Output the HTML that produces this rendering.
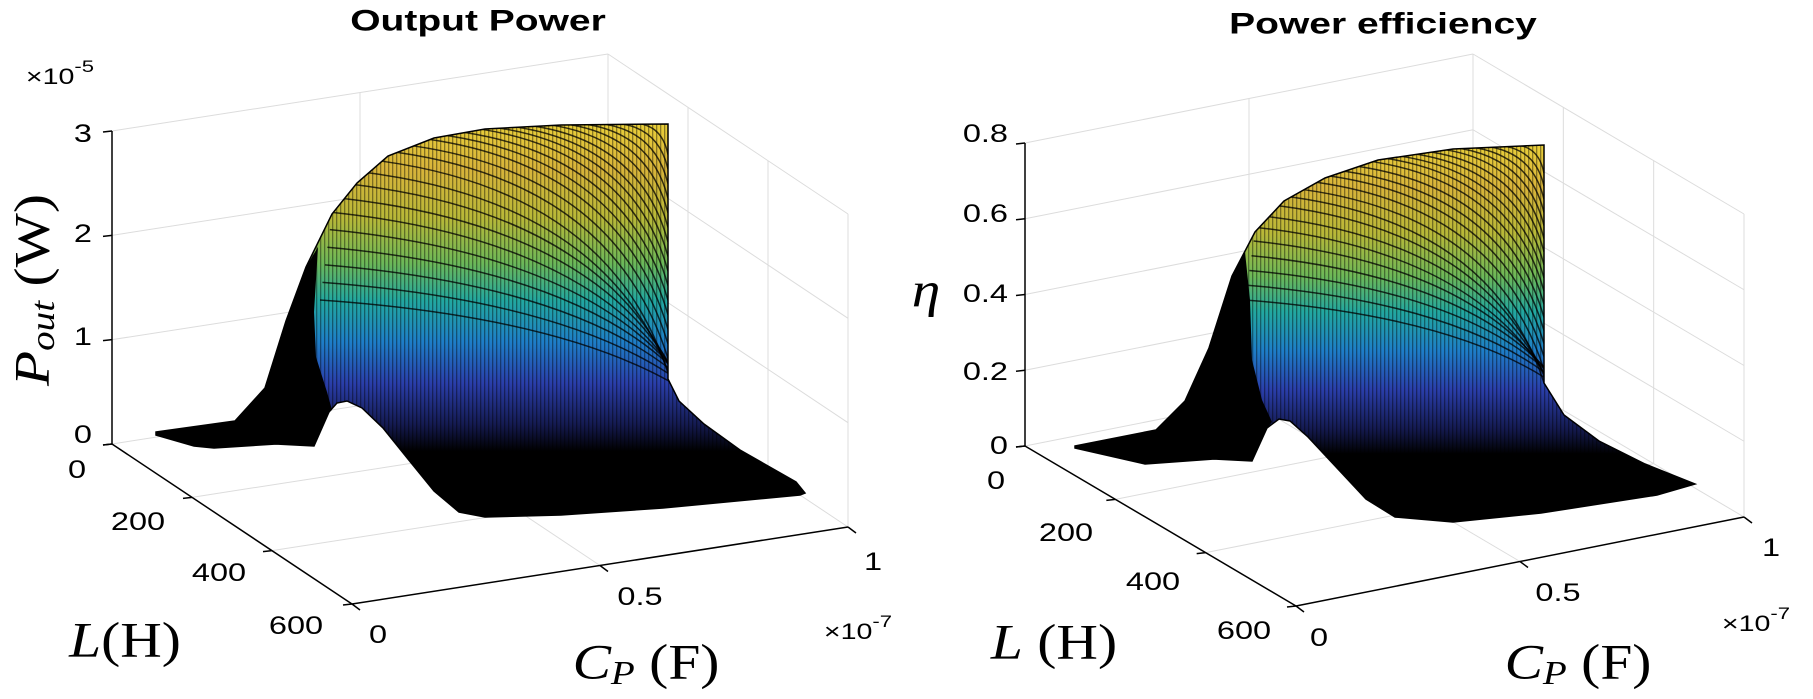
<!DOCTYPE html>
<html><head><meta charset="utf-8"><style>
html,body{margin:0;padding:0;background:#fff;}
svg{display:block;}
text{font-family:"Liberation Sans",sans-serif;fill:#000;}
.s{font-family:"Liberation Serif",serif;}
</style></head><body>
<svg id="g" width="1813" height="699" viewBox="0 0 1813 699" xmlns="http://www.w3.org/2000/svg">
<defs>
<pattern id="vl" width="4" height="10" patternUnits="userSpaceOnUse"><rect x="0" y="0" width="1.3" height="10" fill="#000" fill-opacity="0.4"/></pattern>
<linearGradient id="gL" gradientUnits="userSpaceOnUse" x1="0" y1="124" x2="0" y2="500">
<stop offset="0" stop-color="#e9cf3a"/><stop offset="0.12" stop-color="#d8b43a"/><stop offset="0.25" stop-color="#b8b838"/>
<stop offset="0.37" stop-color="#6cb858"/><stop offset="0.47" stop-color="#22a8a0"/><stop offset="0.58" stop-color="#1e7ec8"/>
<stop offset="0.69" stop-color="#2a3eaa"/><stop offset="0.8" stop-color="#141a50"/><stop offset="0.87" stop-color="#000"/><stop offset="1" stop-color="#000"/>
</linearGradient>
<linearGradient id="gR" gradientUnits="userSpaceOnUse" x1="0" y1="145" x2="0" y2="500">
<stop offset="0" stop-color="#e9cf3a"/><stop offset="0.12" stop-color="#d8b43a"/><stop offset="0.25" stop-color="#b8b838"/>
<stop offset="0.37" stop-color="#6cb858"/><stop offset="0.47" stop-color="#22a8a0"/><stop offset="0.58" stop-color="#1e7ec8"/>
<stop offset="0.69" stop-color="#2a3eaa"/><stop offset="0.8" stop-color="#141a50"/><stop offset="0.87" stop-color="#000"/><stop offset="1" stop-color="#000"/>
</linearGradient>
</defs>
</svg>
<script>
(function(){
var svg=document.getElementById('g');var out='';
function P(p){return p.map(function(q){return q[0]+','+q[1];}).join(' ');}
function add(a,b){return [a[0]+b[0],a[1]+b[1]];}
function mul(a,k){return [a[0]*k,a[1]*k];}
function line(a,b,c,w){out+='<line x1="'+a[0]+'" y1="'+a[1]+'" x2="'+b[0]+'" y2="'+b[1]+'" stroke="'+c+'" stroke-width="'+(w||1)+'"/>';}
function txt(s,x,y,size,extra,anchor){out+='<text transform="translate('+x+','+y+') scale(1.3,1)" font-size="'+size+'" text-anchor="'+(anchor||'middle')+'" dominant-baseline="central" '+(extra||'')+'>'+s+'</text>';}
function interp(pts,t){var L=[0],tot=0;for(var i=1;i<pts.length;i++){tot+=Math.hypot(pts[i][0]-pts[i-1][0],pts[i][1]-pts[i-1][1]);L.push(tot);}
 var d=t*tot;for(var i=1;i<pts.length;i++){if(d<=L[i]||i==pts.length-1){var f=(d-L[i-1])/((L[i]-L[i-1])||1);f=Math.max(0,Math.min(1,f));return [pts[i-1][0]+(pts[i][0]-pts[i-1][0])*f,pts[i-1][1]+(pts[i][1]-pts[i-1][1])*f];}}}
function plot(o){
 var A=o.A,Lv=o.Lv,Cv=o.Cv,H=o.H;
 var D=add(A,Cv),B=add(A,Lv),E=add(B,Cv);var up=[0,-H];var gc='#dcdcdc';
 for(var i=0;i<o.nz;i++){var z=[0,-H*i/(o.nz-1)];line(add(A,z),add(D,z),gc);line(add(D,z),add(E,z),gc);}
 line(add(A,mul(Cv,0.5)),add(add(A,mul(Cv,0.5)),up),gc);
 line(D,add(D,up),gc);
 [1/3,2/3,1].forEach(function(k){var p=add(D,mul(Lv,k));line(p,add(p,up),gc);});
 [1/3,2/3].forEach(function(k){var p=add(A,mul(Lv,k));line(p,add(p,Cv),gc);});
 var p5=add(A,mul(Cv,0.5));line(p5,add(p5,Lv),gc);
 var id=o.id;
 out+='<clipPath id="c'+id+'"><polygon points="'+P(o.out)+'"/></clipPath>';
 out+='<polygon points="'+P(o.out)+'" fill="url(#g'+id+')"/>';
 out+='<g clip-path="url(#c'+id+')"><rect x="0" y="0" width="1813" height="699" fill="url(#vl)"/>';
 var n=26,st=o.starts,en=o.ends;
 for(var k=1;k<n;k++){var t=k/(n-1);
  var s=interp(st,t),e=interp(en,t);
  out+='<path d="M'+s[0]+','+s[1]+' Q'+(s[0]+(e[0]-s[0])*0.8)+','+(s[1]+(e[1]-s[1])*0.15)+' '+e[0]+','+e[1]+'" fill="none" stroke="#000" stroke-width="1.5" stroke-opacity="0.75"/>';}
 out+='</g>';
 out+='<polygon points="'+P(o.black)+'" fill="#000"/>';
 out+='<polygon points="'+P(o.out)+'" fill="none" stroke="#000" stroke-width="1.5"/>';
 line(A,add(A,up),'#000',1.5);line(A,B,'#000',1.5);line(B,E,'#000',1.5);
 for(var i=0;i<o.nz;i++){var p=add(A,[0,-H*i/(o.nz-1)]);line(p,add(p,[-9,1]),'#000',1.5);}
 [0,1/3,2/3,1].forEach(function(k){var p=add(A,mul(Lv,k));line(p,add(p,[-9,1]),'#000',1.5);});
 [0,0.5,1].forEach(function(k){var p=add(B,mul(Cv,k));line(p,add(p,[8,6]),'#000',1.5);});
}
plot({id:'L',A:[112,444],Lv:[240,160],Cv:[496,-77],H:313,nz:4,
 out:[[156,432],[235,421],[265,388],[286,321],[306,267],[332,214],[357,183],[388,156],[434,138],[485,129],[561,125],[668,124],[668,379],[679,401],[704,424],[740,450],[796,482],[805,493],[800,495],[663,508],[561,515],[485,517],[459,512],[434,491],[408,459],[383,428],[362,408],[347,401],[337,403],[329,412],[314,446],[276,444],[214,448],[194,446],[156,435]],
 black:[[156,432],[235,421],[265,388],[286,321],[306,267],[318,247],[314,312],[316,357],[327,392],[332,410],[329,412],[314,446],[276,444],[214,448],[194,446],[156,435]],
 starts:[[660,124],[561,125],[485,129],[434,138],[388,156],[357,183],[332,214],[320,300]],
 ends:[[668,140],[668,379],[704,424],[760,462]]});
plot({id:'R',A:[1025,446],Lv:[271,160],Cv:[448,-89],H:303,nz:5,
 out:[[1075,446],[1156,430],[1185,401],[1209,348],[1232,276],[1255,232],[1284,201],[1325,178],[1378,160],[1453,149],[1544,145],[1544,383],[1564,415],[1599,441],[1645,464],[1695,484],[1657,495],[1541,513],[1453,522],[1395,517],[1366,499],[1337,468],[1308,437],[1290,421],[1279,419],[1267,428],[1252,461],[1214,459],[1145,464],[1075,448]],
 black:[[1075,446],[1156,430],[1185,401],[1209,348],[1232,276],[1245,252],[1250,300],[1252,360],[1262,400],[1272,422],[1267,428],[1252,461],[1214,459],[1145,464],[1075,448]],
 starts:[[1536,145],[1453,149],[1378,160],[1325,178],[1284,201],[1255,232],[1245,300]],
 ends:[[1544,160],[1544,383],[1564,415],[1620,452]]});
txt('Output Power',478,21,30,'font-weight="bold"');
txt('×10<tspan dy="-10" font-size="17">-5</tspan>',60,77,22);
[['3',134],['2',234],['1',337],['0',435]].forEach(function(a){txt(a[0],92,a[1],25,'','end');});
[['0',77,470],['200',138,522],['400',219,573],['600',296,626]].forEach(function(a){txt(a[0],a[1],a[2],25);});
[['0',378,635],['0.5',640,597],['1',873,562]].forEach(function(a){txt(a[0],a[1],a[2],25);});
txt('×10<tspan dy="-10" font-size="17">-7</tspan>',858,632,22);
out+='<text class="s" transform="translate(125,640) scale(1.15,1)" font-size="50" text-anchor="middle" dominant-baseline="central"><tspan font-style="italic">L</tspan>(H)</text>';
out+='<text class="s" transform="translate(646,662) scale(1.15,1)" font-size="50" text-anchor="middle" dominant-baseline="central"><tspan font-style="italic">C</tspan><tspan font-style="italic" font-size="34" dy="10">P</tspan><tspan dy="-10"> (F)</tspan></text>';
out+='<text class="s" transform="translate(32,290) rotate(-90) scale(1.15,1)" font-size="50" text-anchor="middle" dominant-baseline="central"><tspan font-style="italic">P</tspan><tspan font-style="italic" font-size="34" dy="10">out</tspan><tspan dy="-10"> (W)</tspan></text>';
txt('Power efficiency',1383,24,30,'font-weight="bold"');
[['0.8',134],['0.6',214],['0.4',294],['0.2',372],['0',446]].forEach(function(a){txt(a[0],1008,a[1],25,'','end');});
[['0',996,481],['200',1066,533],['400',1153,582],['600',1244,631]].forEach(function(a){txt(a[0],a[1],a[2],25);});
[['0',1319,638],['0.5',1558,593],['1',1771,548]].forEach(function(a){txt(a[0],a[1],a[2],25);});
txt('×10<tspan dy="-10" font-size="17">-7</tspan>',1756,624,22);
out+='<text class="s" transform="translate(1054,642) scale(1.15,1)" font-size="50" text-anchor="middle" dominant-baseline="central"><tspan font-style="italic">L</tspan> (H)</text>';
out+='<text class="s" transform="translate(1578,662) scale(1.15,1)" font-size="50" text-anchor="middle" dominant-baseline="central"><tspan font-style="italic">C</tspan><tspan font-style="italic" font-size="34" dy="10">P</tspan><tspan dy="-10"> (F)</tspan></text>';
out+='<text class="s" transform="translate(926,290) scale(1.15,1)" font-size="50" text-anchor="middle" dominant-baseline="central" font-style="italic">η</text>';
svg.insertAdjacentHTML('beforeend',out);
})();
</script>
</body></html>
